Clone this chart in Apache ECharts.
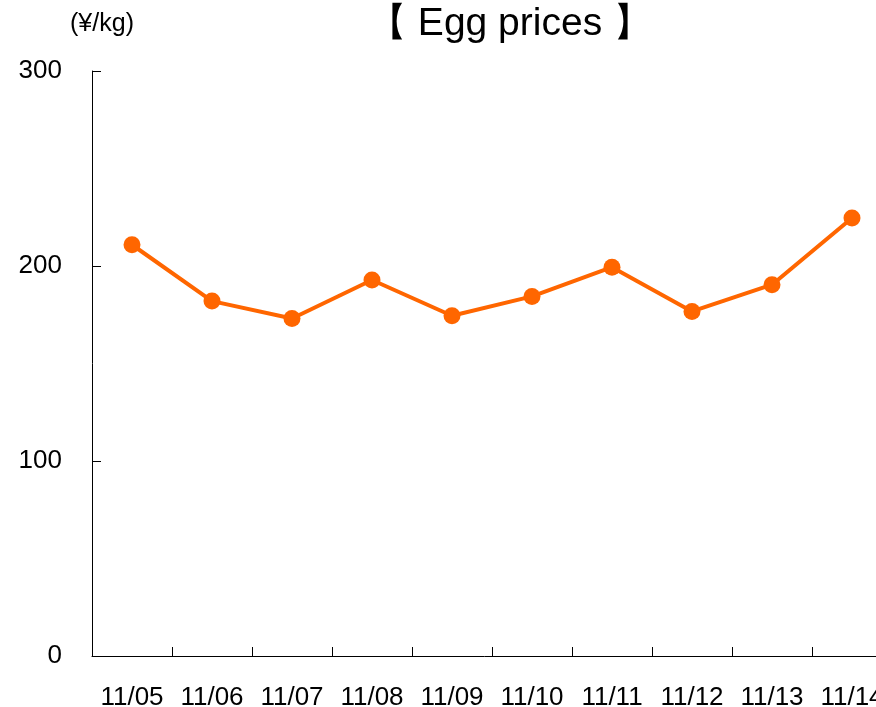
<!DOCTYPE html>
<html>
<head>
<meta charset="utf-8">
<script src="https://cdn.jsdelivr.net/npm/echarts@6/dist/echarts.min.js"></script>
<style>
  html, body { margin: 0; padding: 0; background: #ffffff; }
  #chart { width: 876px; height: 707px; }
</style>
</head>
<body>
<div id="chart"></div>
<script>
// Daily egg prices (¥/kg)
const dates = ['11/05', '11/06', '11/07', '11/08', '11/09', '11/10', '11/11', '11/12', '11/13', '11/14'];
const prices = [210.9, 182.0, 173.1, 192.8, 174.5, 184.4, 199.4, 176.7, 190.4, 224.6];
const yTicks = { min: 0, max: 300, interval: 100 };

const font = '"Liberation Sans", Arial, sans-serif';
const chart = echarts.init(document.getElementById('chart'), null, { renderer: 'canvas' });

chart.setOption({
  backgroundColor: '#ffffff',
  animation: false,
  title: {
    text: '【 Egg prices 】',
    left: 505,
    textAlign: 'center',
    top: 0,
    textStyle: { fontFamily: font, fontSize: 39, fontWeight: 'normal', color: '#000' }
  },
  // the plot area runs past the right edge of the canvas
  grid: { left: 92, top: 71, width: 800, height: 585, containLabel: false, outerBoundsMode: 'none' },
  xAxis: {
    type: 'category',
    data: dates,
    boundaryGap: true,
    axisLine: { lineStyle: { color: '#000', width: 1 } },
    axisTick: { show: true, inside: true, length: 9, alignWithLabel: false, interval: 0, lineStyle: { color: '#000', width: 1 } },
    axisLabel: { margin: 29, fontFamily: font, fontSize: 26, color: '#000', interval: 0 },
    splitLine: { show: false }
  },
  yAxis: {
    type: 'value',
    min: yTicks.min,
    max: yTicks.max,
    interval: yTicks.interval,
    name: '(¥/kg)',
    nameLocation: 'end',
    nameGap: 34,
    nameTextStyle: { fontFamily: font, fontSize: 25, color: '#000', align: 'center', padding: [0, 0, 0, 20] },
    axisLine: { show: true, lineStyle: { color: '#000', width: 1 } },
    axisTick: { show: true, inside: true, length: 9, lineStyle: { color: '#000' } },
    axisLabel: { margin: 30, fontFamily: font, fontSize: 26, color: '#000' },
    splitLine: { show: false }
  },
  series: [{
    type: 'line',
    data: prices,
    symbol: 'circle',
    symbolSize: 17,
    lineStyle: { color: '#ff6600', width: 4 },
    itemStyle: { color: '#ff6600' }
  }]
});
</script>
</body>
</html>
